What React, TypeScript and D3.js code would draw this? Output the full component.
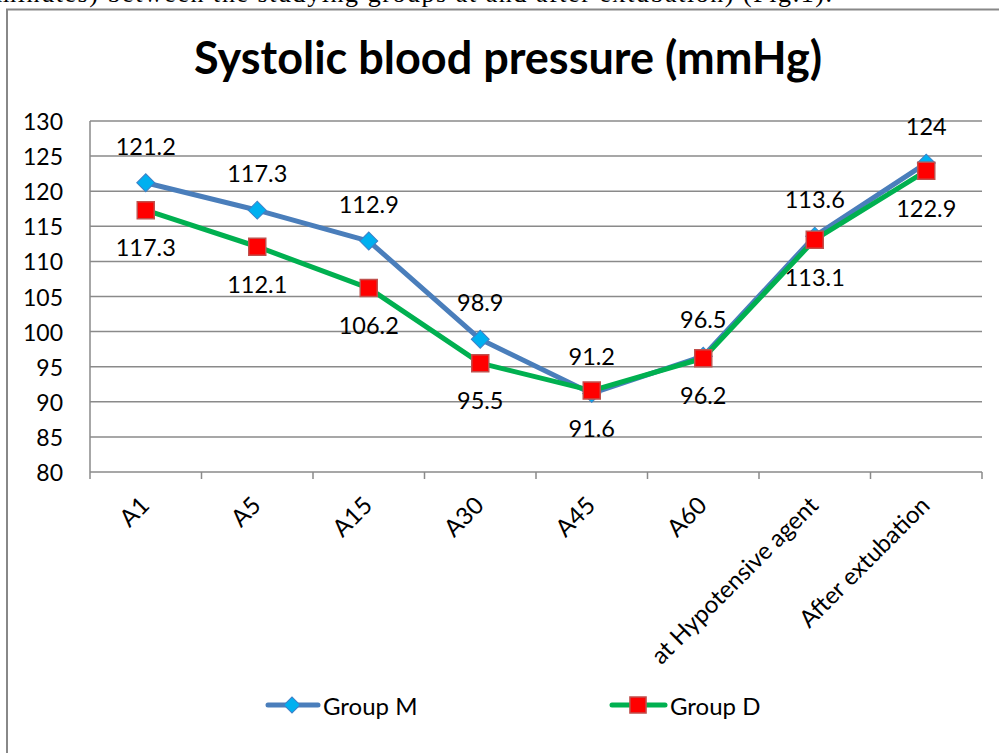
import React from "react";
import * as d3 from "d3";

// time points on the x axis
const categories = ["A1", "A5", "A15", "A30", "A45", "A60", "at Hypotensive agent", "After extubation"];
// systolic blood pressure, mmHg
const groupM = [121.2, 117.3, 112.9, 98.9, 91.2, 96.5, 113.6, 124];
const groupD = [117.3, 112.1, 106.2, 95.5, 91.6, 96.2, 113.1, 122.9];
const yTicks = [80, 85, 90, 95, 100, 105, 110, 115, 120, 125, 130];
const seriesNames = ["Group M", "Group D"];

const W = 999, H = 753;
const FONT = "Lato, 'Open Sans', sans-serif";
const GRID = "#8a8a8a";

export default function App() {
  const x = d3.scaleBand().domain(categories).range([90, 982]).padding(0);
  const y = d3.scaleLinear().domain([80, 130]).range([472, 121]);
  const cx = (c: string) => (x(c) as number) + x.bandwidth() / 2;

  const line = d3.line<number>()
    .x((_, i) => cx(categories[i]))
    .y(d => y(d));

  const diamond = d3.symbol(d3.symbolSquare, 162)();
  const square = d3.symbol(d3.symbolSquare, 289)();
  const legendDiamond = d3.symbol(d3.symbolSquare, 130)();
  const legendSquare = d3.symbol(d3.symbolSquare, 260)();

  const bounds = categories.map(c => x(c) as number).concat([x.range()[1]]);

  return (
    <svg width={W} height={H} style={{ position: "absolute", left: 0, top: 0, background: "#fff" }}>
      {/* leftover line of the article text above the figure */}
      <text x={-4} y={2} fontFamily="'Liberation Serif', 'DejaVu Serif', serif" fontSize={26}
        textLength={836} lengthAdjust="spacing">
        minutes) between the studying groups at and after extubation) (Fig.1).
      </text>

      {/* chart frame */}
      <rect x={7} y={9.5} width={1100} height={900} fill="none" stroke="#888" strokeWidth={2} />

      <text x={508} y={74} textAnchor="middle" fontFamily={FONT} fontWeight="bold" fontSize={45}>
        Systolic blood pressure (mmHg)
      </text>

      {/* gridlines + y labels */}
      {yTicks.map(t => (
        <g key={t}>
          <line x1={90} x2={982} y1={y(t)} y2={y(t)} stroke={GRID} strokeWidth={1.5} />
          <text x={63} y={y(t)} textAnchor="end" dominantBaseline="central" fontFamily={FONT} fontSize={23}>{t}</text>
        </g>
      ))}
      <line x1={90} x2={90} y1={y(130)} y2={y(80)} stroke={GRID} strokeWidth={1.5} />
      {bounds.map((b, i) => (
        <line key={i} x1={b} x2={b} y1={y(80)} y2={y(80) + 7} stroke={GRID} strokeWidth={1.5} />
      ))}

      {/* x labels */}
      {categories.map(c => (
        <text key={c} transform={`translate(${cx(c) + 5},${y(80) + 35}) rotate(-45)`}
          textAnchor="end" fontFamily={FONT} fontSize={24}>{c}</text>
      ))}

      {/* Group M */}
      <path d={line(groupM) as string} fill="none" stroke="#4a7ebb" strokeWidth={5} strokeLinejoin="round" />
      {groupM.map((v, i) => (
        <path key={i} d={diamond as string} transform={`translate(${cx(categories[i])},${y(v)}) rotate(45)`}
          fill="#00b0f0" stroke="#3f7fc6" strokeWidth={1} />
      ))}

      {/* Group D */}
      <path d={line(groupD) as string} fill="none" stroke="#00b050" strokeWidth={5} strokeLinejoin="round" />
      {groupD.map((v, i) => (
        <path key={i} d={square as string} transform={`translate(${cx(categories[i])},${y(v)})`}
          fill="#ff0000" stroke="#c0504d" strokeWidth={1.5} />
      ))}

      {/* data labels */}
      {groupM.map((v, i) => (
        <text key={"m" + i} x={cx(categories[i])} y={y(v) - 37} textAnchor="middle" dominantBaseline="central"
          fontFamily={FONT} fontSize={23.5}>{v}</text>
      ))}
      {groupD.map((v, i) => (
        <text key={"d" + i} x={cx(categories[i])} y={y(v) + 37} textAnchor="middle" dominantBaseline="central"
          fontFamily={FONT} fontSize={23.5}>{v}</text>
      ))}

      {/* legend */}
      <g>
        <line x1={268} x2={318} y1={705} y2={705} stroke="#4a7ebb" strokeWidth={5} strokeLinecap="round" />
        <path d={legendDiamond as string} transform="translate(292,705) rotate(45)" fill="#00b0f0" stroke="#3f7fc6" strokeWidth={1} />
        <text x={323} y={705} dominantBaseline="central" fontFamily={FONT} fontSize={24}>{seriesNames[0]}</text>
        <line x1={612} x2={665} y1={705} y2={705} stroke="#00b050" strokeWidth={5} strokeLinecap="round" />
        <path d={legendSquare as string} transform="translate(638,705)" fill="#ff0000" stroke="#c0504d" strokeWidth={1.5} />
        <text x={670} y={705} dominantBaseline="central" fontFamily={FONT} fontSize={24}>{seriesNames[1]}</text>
      </g>
    </svg>
  );
}
